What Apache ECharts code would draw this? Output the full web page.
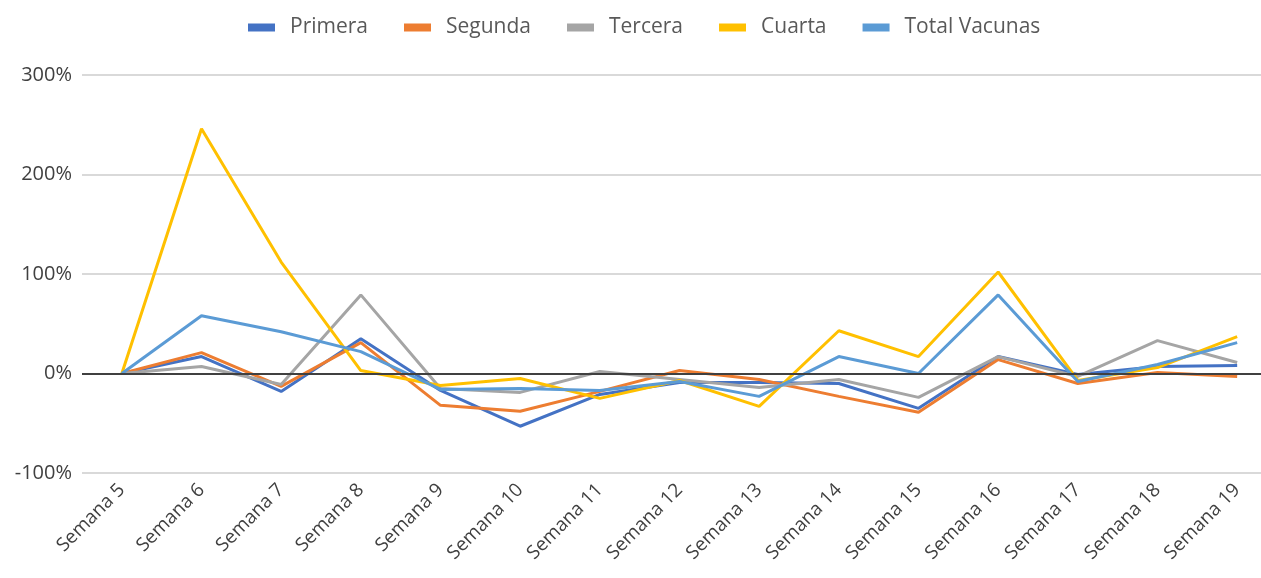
<!DOCTYPE html>
<html>
<head>
<meta charset="utf-8">
<script src="https://cdn.jsdelivr.net/npm/echarts@6/dist/echarts.min.js"></script>
<style>
html,body{margin:0;padding:0;background:#fff;}
#main{width:1261px;height:578px;}
</style>
</head>
<body>
<div id="main"></div>
<script>
var semanas = ['Semana 5','Semana 6','Semana 7','Semana 8','Semana 9','Semana 10','Semana 11','Semana 12','Semana 13','Semana 14','Semana 15','Semana 16','Semana 17','Semana 18','Semana 19'];
var primera = [0, 0.17, -0.18, 0.35, -0.17, -0.53, -0.21, -0.09, -0.09, -0.10, -0.35, 0.17, -0.01, 0.07, 0.08];
var segunda = [0, 0.21, -0.13, 0.31, -0.32, -0.38, -0.18, 0.03, -0.06, -0.23, -0.39, 0.14, -0.10, 0.01, -0.03];
var tercera = [0, 0.07, -0.11, 0.79, -0.15, -0.19, 0.02, -0.06, -0.14, -0.06, -0.24, 0.17, -0.03, 0.33, 0.11];
var cuarta = [0, 2.46, 1.12, 0.03, -0.12, -0.05, -0.25, -0.07, -0.33, 0.43, 0.17, 1.02, -0.07, 0.06, 0.37];
var total = [0, 0.58, 0.42, 0.22, -0.16, -0.15, -0.17, -0.08, -0.23, 0.17, 0, 0.79, -0.08, 0.09, 0.31];
var yTicks = [-1, 0, 1, 2, 3];

var myChart = echarts.init(document.getElementById('main'));
var font = '"Open Sans", sans-serif';

function mkSeries(name, data, color){
    return {
        name: name,
        type: 'line',
        data: data,
        symbol: 'none',
        lineStyle: {width: 3, color: color},
        itemStyle: {color: color}
    }
}

var series = [
    mkSeries('Primera', primera, '#4472C4'),
    mkSeries('Segunda', segunda, '#ED7D31'),
    mkSeries('Tercera', tercera, '#A5A5A5'),
    mkSeries('Cuarta', cuarta, '#FFC000'),
    mkSeries('Total Vacunas', total, '#5B9BD5')
];
// dark zero line
series[0].markLine = {
    silent: true,
    symbol: 'none',
    label: {show: false},
    lineStyle: {color: '#404040', width: 2, type: 'solid'},
    data: [{yAxis: 0}]
};

var option = {
    animation: false,
    textStyle: {fontFamily: font},
    legend: {
        top: 12,
        left: 243,
        itemWidth: 27,
        itemHeight: 8,
        itemGap: 36,
        icon: 'rect',
        textStyle: {fontSize: 21, color: '#595959', fontFamily: font, padding: [0, 0, 0, 10]},
        data: ['Primera','Segunda','Tercera','Cuarta','Total Vacunas']
    },
    grid: {left: 82, top: 75, width: 1195, height: 398, containLabel: false, outerBoundsMode: 'none'},
    xAxis: {
        type: 'category',
        data: semanas,
        boundaryGap: true,
        axisLine: {show: false, onZero: false},
        axisTick: {show: false},
        axisLabel: {rotate: 45, fontSize: 19, color: '#404040', margin: 14, fontFamily: font}
    },
    yAxis: {
        type: 'value',
        min: yTicks[0],
        max: yTicks[yTicks.length - 1],
        interval: 1,
        axisLine: {show: false},
        axisTick: {show: false},
        splitLine: {lineStyle: {color: '#D9D9D9', width: 2}},
        axisLabel: {
            fontSize: 20, color: '#404040', margin: 10, fontFamily: font,
            formatter: function(v){ return Math.round(v * 100) + '%'; }
        }
    },
    series: series
};
myChart.setOption(option);
</script>
</body>
</html>
